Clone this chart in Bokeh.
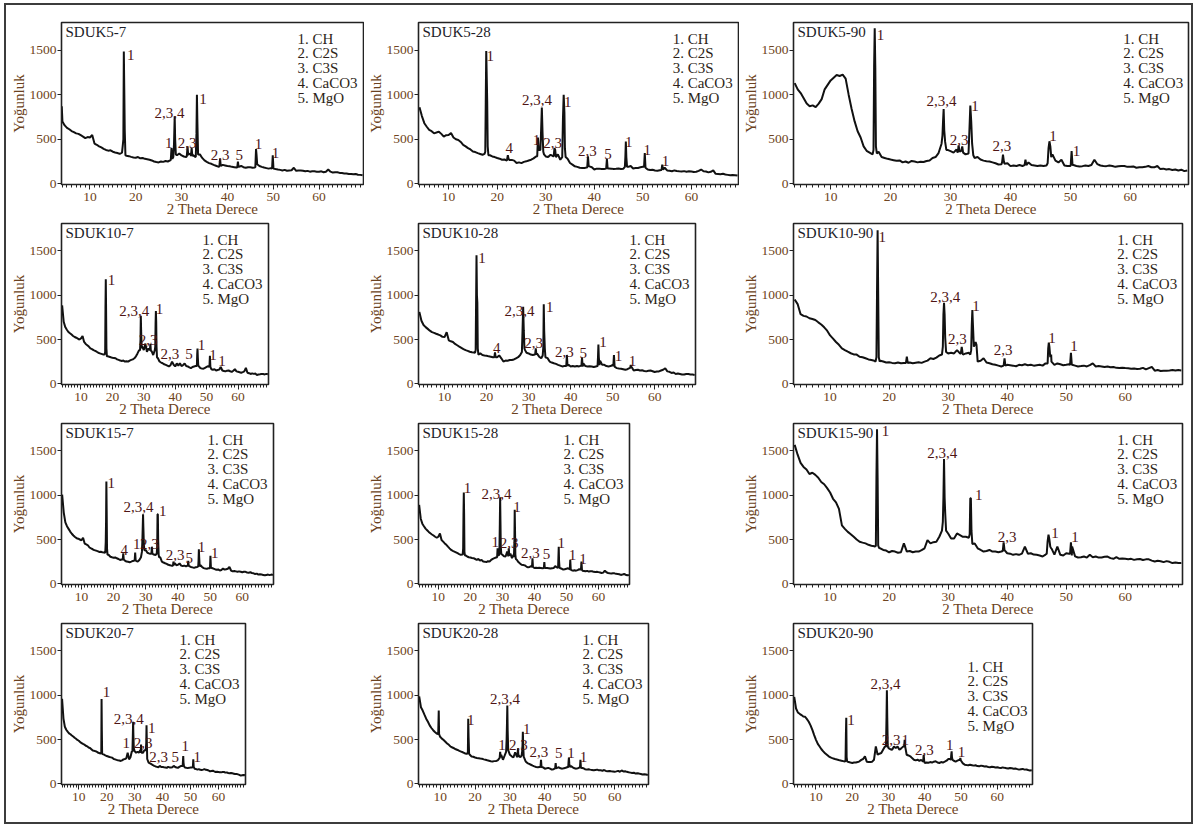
import numpy as np
from bokeh.plotting import figure
from bokeh.layouts import row, column
from bokeh.models import Range1d, FixedTicker
from bokeh.core.properties import value
from bokeh.embed import file_html
from bokeh.resources import INLINE

FONT = "Liberation Serif"
X_START, X_END = 3.8, 69.7
Y_START, Y_END = -8, 1810
BG_X = np.arange(4.0, 69.51, 0.5)          # 2-theta grid of the background readings
X_TICKS = [10, 20, 30, 40, 50, 60]
X_MINOR = list(range(4, 70))
Y_TICKS = [0, 500, 1000, 1500]
LEGEND = ["1. CH", "2. C2S", "3. C3S", "4. CaCO3", "5. MgO"]

# ---------------- SDUK5-7 ----------------
sduk5_7_bg = [700, 655, 628, 612, 592, 580, 566, 560, 545, 530,
              512, 524, 520, 548, 452, 438, 420, 408, 392, 380,
              372, 376, 360, 352, 346, 336, 342, 360, 315, 310,
              302, 296, 292, 300, 286, 290, 280, 276, 270, 262,
              250, 244, 240, 250, 246, 256, 250, 262, 282, 300,
              320, 340, 318, 306, 300, 330, 340, 322, 302, 340,
              330, 290, 262, 246, 232, 224, 212, 202, 192, 198,
              212, 206, 200, 196, 190, 186, 182, 190, 200, 186,
              180, 186, 186, 180, 182, 210, 200, 190, 182, 176,
              170, 176, 166, 165, 160, 156, 150, 156, 146, 150,
              152, 180, 146, 150, 150, 146, 140, 145, 136, 140,
              140, 136, 136, 140, 130, 136, 160, 136, 126, 130,
              130, 122, 120, 116, 116, 110, 110, 106, 110, 102,
              100, 96]
sduk5_7_peaks = [
    [(3.85, 870), (3.95, 760)],
    [(17.0, 350), (17.15, 420), (17.3, 500), (17.4, 1485), (17.5, 1050), (17.6, 600), (17.75, 320)],
    [(27.65, 270), (27.8, 400), (27.95, 290)],
    [(28.2, 300), (28.35, 450), (28.5, 757), (28.6, 500), (28.75, 330)],
    [(31.15, 310), (31.3, 420), (31.45, 320)],
    [(32.05, 310), (32.2, 400), (32.35, 310)],
    [(33.1, 300), (33.25, 560), (33.35, 1000), (33.45, 700), (33.6, 330)],
    [(38.25, 195), (38.4, 280), (38.55, 200)],
    [(42.15, 185), (42.3, 250), (42.45, 185)],
    [(46.1, 190), (46.25, 390), (46.35, 330), (46.5, 220)],
    [(49.75, 170), (49.9, 320), (50.05, 170)],
]
sduk5_7_labels = [("1", 18.9, 1447), ("2,3,4", 27.35, 795), ("1", 34.7, 951), ("1", 27.2, 459),
                  ("2,3", 31.2, 459), ("2,3", 38.4, 328), ("5", 42.6, 328), ("1", 46.8, 451), ("1", 50.5, 347)]

# ---------------- SDUK5-28 ----------------
sduk5_28_bg = [860, 760, 680, 640, 605, 590, 566, 575, 585, 560,
               530, 545, 548, 570, 520, 500, 492, 470, 437, 420,
               400, 385, 363, 356, 344, 335, 326, 340, 330, 320,
               307, 300, 289, 282, 270, 272, 262, 268, 268, 260,
               233, 240, 232, 246, 252, 262, 270, 285, 307, 330,
               380, 420, 307, 300, 326, 310, 380, 330, 270, 420,
               500, 280, 233, 215, 196, 190, 180, 178, 178, 184,
               195, 185, 160, 170, 170, 165, 165, 160, 172, 170,
               165, 168, 172, 166, 170, 200, 190, 200, 172, 176,
               178, 185, 190, 200, 160, 156, 158, 150, 146, 152,
               165, 180, 150, 146, 141, 150, 144, 140, 138, 142,
               136, 140, 138, 132, 135, 145, 160, 140, 138, 128,
               135, 150, 112, 110, 108, 112, 104, 100, 95, 98,
               96, 92]
sduk5_28_peaks = [
    [(17.4, 335), (17.55, 360), (17.65, 920), (17.75, 1491), (17.85, 1200), (17.95, 920), (18.05, 420), (18.2, 320)],
    [(22.05, 275), (22.2, 320), (22.35, 280)],
    [(28.25, 310), (28.4, 520), (28.55, 380)],
    [(28.9, 380), (29.05, 600), (29.2, 855), (29.35, 560), (29.5, 360), (29.65, 330)],
    [(31.65, 310), (31.8, 400), (31.95, 380), (32.1, 300)],
    [(33.4, 300), (33.55, 733), (33.7, 1000), (33.85, 800), (33.95, 400), (34.1, 300)],
    [(38.55, 184), (38.7, 307), (38.85, 200)],
    [(42.45, 170), (42.6, 278), (42.75, 172)],
    [(46.3, 190), (46.4, 300), (46.5, 474), (46.6, 300), (46.75, 190)],
    [(50.25, 190), (50.4, 344), (50.55, 180)],
    [(53.85, 155), (54.0, 215), (54.15, 160)],
]
sduk5_28_labels = [("1", 18.6, 1436), ("2,3,4", 28.2, 936), ("1", 34.55, 918), ("4", 22.5, 400),
                   ("1", 28.1, 492), ("2,3", 31.4, 463), ("2,3", 38.6, 363), ("5", 42.8, 337),
                   ("1", 47.1, 474), ("1", 50.9, 381), ("1", 54.65, 252)]

# ---------------- SDUK5-90 ----------------
sduk5_90_bg = [1130, 1060, 1018, 960, 900, 870, 880, 860, 900, 950,
               1060, 1110, 1160, 1190, 1220, 1210, 1225, 1180, 1000, 840,
               700, 590, 520, 420, 370, 350, 330, 345, 360, 300,
               290, 280, 272, 265, 258, 262, 240, 250, 236, 256,
               250, 240, 248, 244, 256, 262, 290, 300, 345, 420,
               460, 380, 366, 350, 384, 360, 350, 330, 330, 340,
               290, 300, 272, 260, 254, 250, 240, 230, 216, 220,
               225, 230, 198, 205, 200, 210, 200, 205, 240, 210,
               205, 200, 206, 200, 205, 210, 330, 260, 240, 270,
               205, 200, 200, 210, 200, 195, 198, 205, 200, 210,
               270, 220, 205, 200, 198, 205, 200, 190, 196, 200,
               200, 190, 190, 195, 180, 186, 185, 190, 200, 186,
               185, 200, 165, 170, 160, 165, 155, 160, 150, 158,
               142, 150]
sduk5_90_peaks = [
    [(17.0, 330), (17.15, 380), (17.25, 1317), (17.35, 1745), (17.45, 1300), (17.55, 420), (17.7, 340)],
    [(28.5, 450), (28.65, 540), (28.75, 700), (28.85, 839), (28.95, 600), (29.1, 470), (29.3, 380)],
    [(31.2, 350), (31.35, 430), (31.5, 360)],
    [(31.8, 370), (31.95, 420), (32.1, 350)],
    [(33.0, 340), (33.15, 600), (33.3, 877), (33.45, 700), (33.6, 450), (33.8, 320)],
    [(38.6, 240), (38.75, 328), (38.9, 250)],
    [(42.35, 210), (42.5, 270), (42.65, 210)],
    [(46.2, 230), (46.35, 400), (46.5, 477), (46.65, 420), (46.8, 300)],
    [(50.05, 210), (50.2, 366), (50.35, 210)],
]
sduk5_90_labels = [("1", 18.3, 1671), ("2,3,4", 28.5, 925), ("1", 34.1, 869), ("2,3", 31.45, 496),
                   ("2,3", 38.55, 421), ("1", 47.1, 533), ("1", 51.0, 373)]

# ---------------- SDUK10-7 ----------------
sduk10_7_bg = [886, 700, 640, 610, 585, 570, 556, 540, 528, 520,
               510, 500, 512, 540, 472, 450, 436, 420, 400, 392,
               380, 372, 362, 350, 344, 338, 332, 330, 320, 310,
               306, 300, 295, 292, 288, 276, 270, 262, 258, 262,
               251, 255, 250, 262, 270, 276, 288, 310, 343, 380,
               435, 420, 380, 454, 362, 400, 435, 370, 325, 400,
               350, 288, 252, 240, 232, 220, 214, 205, 196, 210,
               250, 215, 196, 230, 205, 232, 200, 210, 230, 200,
               196, 185, 177, 190, 196, 200, 210, 200, 177, 172,
               170, 180, 190, 200, 170, 165, 159, 165, 150, 156,
               160, 190, 150, 145, 140, 148, 150, 142, 135, 148,
               165, 140, 135, 130, 125, 132, 140, 180, 125, 120,
               111, 118, 112, 115, 100, 105, 108, 112, 110, 106,
               112, 108]
sduk10_7_peaks = [
    [(17.55, 335), (17.7, 360), (17.8, 849), (17.9, 1181), (18.0, 820), (18.1, 400), (18.25, 310)],
    [(28.8, 380), (28.95, 500), (29.05, 767), (29.15, 600), (29.3, 440), (29.45, 400)],
    [(31.95, 380), (32.1, 450), (32.25, 370)],
    [(33.5, 380), (33.65, 420), (33.75, 675), (33.85, 823), (33.95, 700), (34.05, 420), (34.2, 300)],
    [(46.9, 200), (47.0, 330), (47.1, 399), (47.2, 300), (47.35, 200)],
    [(50.9, 190), (51.05, 317), (51.2, 190)],
]
sduk10_7_labels = [("1", 19.7, 1173), ("2,3,4", 27.0, 823), ("1", 35.0, 841), ("2,3", 31.35, 491),
                   ("2,3", 38.3, 332), ("5", 44.4, 332), ("1", 48.4, 443), ("1", 52.0, 325), ("1", 54.9, 258)]

# ---------------- SDUK10-28 ----------------
sduk10_28_bg = [812, 712, 664, 640, 620, 600, 583, 575, 565, 556,
                546, 530, 528, 583, 491, 480, 472, 450, 435, 420,
                406, 392, 380, 372, 362, 356, 354, 350, 345, 343,
                325, 320, 317, 310, 306, 300, 295, 300, 320, 288,
                251, 262, 260, 268, 269, 275, 288, 300, 325, 350,
                380, 350, 343, 330, 325, 330, 340, 306, 288, 400,
                400, 290, 251, 240, 232, 225, 214, 205, 196, 200,
                230, 215, 196, 200, 196, 200, 196, 205, 230, 200,
                196, 198, 196, 190, 196, 210, 260, 214, 214, 200,
                196, 200, 214, 190, 177, 172, 170, 165, 159, 165,
                177, 190, 150, 155, 159, 150, 152, 145, 140, 148,
                150, 142, 133, 138, 140, 150, 159, 175, 140, 135,
                122, 128, 111, 115, 111, 106, 104, 110, 111, 106,
                104, 100]
sduk10_28_peaks = [
    [(17.25, 350), (17.4, 380), (17.5, 915), (17.6, 1450), (17.7, 1000), (17.8, 915), (17.9, 400), (18.05, 330)],
    [(21.85, 300), (22.0, 354), (22.15, 300)],
    [(28.4, 360), (28.55, 601), (28.7, 871), (28.85, 600), (29.0, 400), (29.15, 380)],
    [(31.55, 330), (31.7, 399), (31.85, 330)],
    [(33.35, 320), (33.5, 420), (33.6, 897), (33.7, 601), (33.85, 400), (34.0, 300)],
    [(38.95, 200), (39.1, 325), (39.25, 205)],
    [(42.55, 196), (42.7, 295), (42.85, 196)],
    [(46.4, 200), (46.5, 300), (46.6, 443), (46.7, 300), (46.85, 210)],
    [(50.15, 200), (50.3, 325), (50.45, 200)],
    [(54.15, 177), (54.3, 214), (54.45, 177)],
]
sduk10_28_labels = [("1", 18.9, 1424), ("2,3,4", 27.8, 823), ("1", 35.0, 871), ("4", 22.4, 406),
                    ("2,3", 31.2, 465), ("2,3", 38.5, 362), ("5", 43.0, 343), ("1", 47.7, 472),
                    ("1", 51.4, 317), ("1", 54.7, 258)]

# ---------------- SDUK10-90 ----------------
sduk10_90_bg = [952, 900, 786, 767, 760, 740, 731, 720, 694, 670,
                638, 600, 546, 510, 472, 440, 399, 380, 362, 345,
                332, 330, 306, 300, 288, 275, 269, 260, 251, 260,
                251, 240, 244, 236, 232, 240, 232, 236, 245, 240,
                232, 238, 244, 236, 250, 262, 288, 280, 295, 320,
                399, 500, 343, 350, 343, 380, 343, 330, 343, 350,
                500, 472, 251, 260, 288, 240, 232, 220, 214, 205,
                196, 205, 214, 210, 205, 198, 214, 210, 220, 210,
                214, 205, 210, 214, 205, 230, 230, 250, 214, 230,
                220, 210, 214, 220, 214, 205, 196, 200, 205, 196,
                210, 230, 196, 200, 196, 190, 196, 186, 190, 180,
                177, 180, 177, 175, 170, 172, 168, 170, 180, 162,
                177, 190, 148, 155, 145, 148, 148, 150, 155, 150,
                155, 150]
sduk10_90_peaks = [
    [(17.7, 250), (17.85, 300), (17.95, 1033), (18.05, 1734), (18.15, 1000), (18.25, 300), (18.4, 250)],
    [(22.85, 236), (23.0, 306), (23.15, 236)],
    [(28.95, 330), (29.1, 420), (29.2, 786), (29.3, 915), (29.4, 786), (29.5, 520), (29.65, 360)],
    [(32.15, 343), (32.3, 417), (32.45, 343)],
    [(33.75, 330), (33.9, 380), (34.0, 664), (34.1, 834), (34.2, 664), (34.35, 420), (34.5, 440), (34.65, 472), (34.8, 440)],
    [(39.4, 205), (39.55, 288), (39.7, 205)],
    [(46.85, 230), (46.95, 400), (47.05, 465), (47.15, 420), (47.3, 300), (47.45, 330)],
    [(50.65, 214), (50.8, 351), (50.95, 214)],
]
sduk10_90_labels = [("1", 18.85, 1660), ("2,3,4", 29.5, 981), ("1", 34.7, 878), ("2,3", 31.55, 502),
                    ("2,3", 39.3, 380), ("1", 47.6, 517), ("1", 51.3, 428)]

# ---------------- SDUK15-7 ----------------
sduk15_7_bg = [1007, 804, 694, 650, 620, 590, 565, 545, 528, 515,
               509, 500, 491, 520, 454, 445, 435, 410, 399, 390,
               380, 375, 369, 360, 362, 356, 354, 350, 340, 325,
               306, 300, 295, 298, 288, 280, 269, 275, 300, 262,
               251, 248, 244, 250, 258, 262, 260, 250, 269, 300,
               380, 380, 380, 350, 343, 340, 417, 330, 325, 380,
               350, 300, 251, 240, 232, 225, 214, 210, 205, 200,
               232, 210, 214, 230, 205, 200, 205, 196, 205, 200,
               190, 185, 180, 186, 190, 200, 210, 190, 177, 172,
               170, 175, 190, 178, 172, 165, 159, 162, 150, 156,
               172, 160, 165, 170, 190, 150, 140, 145, 140, 135,
               140, 136, 130, 135, 135, 128, 125, 130, 122, 118,
               111, 115, 104, 108, 104, 100, 96, 100, 104, 98,
               104, 100]
sduk15_7_peaks = [
    [(17.4, 350), (17.55, 472), (17.65, 700), (17.75, 1155), (17.85, 800), (17.95, 400), (18.1, 330)],
    [(22.85, 275), (23.0, 343), (23.15, 275)],
    [(26.55, 262), (26.7, 354), (26.85, 262)],
    [(28.8, 360), (28.95, 500), (29.05, 638), (29.15, 786), (29.25, 638), (29.4, 450), (29.55, 380)],
    [(31.75, 340), (31.9, 417), (32.05, 340)],
    [(33.4, 340), (33.55, 420), (33.65, 786), (33.75, 786), (33.85, 500), (34.0, 330), (34.15, 300)],
    [(38.45, 205), (38.6, 250), (38.75, 210)],
    [(43.05, 200), (43.2, 260), (43.35, 200)],
    [(46.3, 196), (46.4, 260), (46.5, 391), (46.6, 300), (46.75, 196)],
    [(49.95, 175), (50.1, 317), (50.25, 180)],
]
sduk15_7_labels = [("1", 19.3, 1137), ("2,3,4", 27.7, 871), ("1", 35.3, 823), ("4", 23.3, 380),
                   ("1", 27.2, 454), ("2,3", 31.1, 454), ("2,3", 39.1, 325), ("5", 43.5, 295),
                   ("1", 47.3, 417), ("1", 51.4, 343)]

# ---------------- SDUK15-28 ----------------
sduk15_28_bg = [890, 735, 679, 650, 623, 605, 586, 570, 557, 545,
                531, 520, 531, 568, 494, 476, 456, 440, 419, 400,
                382, 372, 364, 355, 345, 335, 327, 330, 330, 320,
                308, 300, 297, 292, 289, 280, 271, 280, 262, 270,
                252, 250, 245, 255, 250, 270, 282, 290, 297, 340,
                327, 340, 327, 310, 308, 364, 330, 340, 289, 330,
                330, 271, 245, 230, 215, 212, 208, 195, 186, 190,
                200, 190, 178, 182, 178, 180, 178, 175, 190, 178,
                178, 176, 172, 176, 178, 200, 185, 180, 178, 170,
                160, 165, 170, 175, 165, 155, 148, 152, 148, 155,
                165, 160, 148, 145, 141, 146, 138, 142, 141, 135,
                132, 136, 132, 128, 122, 126, 148, 130, 122, 118,
                115, 120, 118, 112, 111, 108, 100, 104, 111, 102,
                96, 100]
sduk15_28_peaks = [
    [(17.6, 330), (17.75, 400), (17.85, 779), (17.95, 1031), (18.05, 779), (18.15, 360), (18.3, 320)],
    [(28.35, 300), (28.5, 401), (28.65, 320)],
    [(29.05, 330), (29.2, 679), (29.3, 976), (29.4, 700), (29.5, 420), (29.65, 340)],
    [(31.85, 310), (32.0, 400), (32.15, 320)],
    [(33.6, 300), (33.75, 475), (33.85, 835), (33.95, 600), (34.05, 330), (34.2, 280)],
    [(39.25, 190), (39.4, 289), (39.55, 190)],
    [(42.95, 178), (43.1, 245), (43.25, 178)],
    [(47.4, 180), (47.5, 300), (47.6, 419), (47.7, 260), (47.85, 180)],
    [(51.05, 165), (51.2, 271), (51.35, 165)],
    [(54.55, 165), (54.7, 252), (54.85, 160)],
]
sduk15_28_labels = [("1", 19.1, 1087), ("2,3,4", 28.2, 1013), ("1", 34.6, 864), ("1", 27.8, 475),
                    ("2,3", 32.1, 456), ("2,3", 38.75, 345), ("5", 43.8, 334), ("1", 48.4, 456),
                    ("1", 51.9, 326), ("1", 55.2, 282)]

# ---------------- SDUK15-90 ----------------
sduk15_90_bg = [1569, 1458, 1365, 1320, 1291, 1240, 1254, 1230, 1198, 1150,
                1124, 1080, 1031, 960, 920, 846, 660, 620, 586, 560,
                531, 500, 475, 465, 456, 440, 430, 425, 419, 401,
                382, 375, 356, 370, 364, 350, 356, 456, 364, 370,
                356, 364, 364, 380, 401, 493, 456, 470, 475, 531,
                623, 568, 568, 512, 512, 568, 550, 531, 531, 512,
                520, 456, 401, 382, 364, 370, 382, 364, 364, 356,
                364, 400, 345, 340, 327, 335, 327, 340, 419, 340,
                345, 330, 327, 320, 308, 330, 500, 400, 330, 420,
                327, 320, 345, 340, 420, 310, 297, 300, 308, 296,
                327, 300, 308, 296, 297, 305, 308, 290, 282, 300,
                282, 286, 282, 276, 282, 270, 276, 280, 268, 276,
                276, 262, 252, 260, 255, 245, 256, 248, 234, 240,
                234, 236]
sduk15_90_peaks = [
    [(17.6, 419), (17.75, 430), (17.85, 1198), (17.95, 1744), (18.05, 1198), (18.15, 430), (18.3, 405)],
    [(28.95, 600), (29.1, 700), (29.2, 976), (29.3, 1410), (29.4, 976), (29.5, 800), (29.65, 600)],
    [(33.5, 520), (33.65, 560), (33.75, 965), (33.85, 965), (33.95, 600), (34.1, 450)],
    [(39.25, 370), (39.4, 467), (39.55, 380)],
    [(46.7, 340), (46.85, 480), (47.0, 556), (47.15, 500), (47.3, 420), (47.45, 400)],
    [(50.65, 340), (50.8, 467), (50.95, 320)],
]
sduk15_90_labels = [("1", 19.4, 1729), ("2,3,4", 29.0, 1477), ("1", 35.2, 1002), ("2,3", 40.0, 531),
                    ("1", 48.1, 579), ("1", 51.5, 531)]

# ---------------- SDUK20-7 ----------------
sduk20_7_bg = [960, 736, 644, 610, 589, 570, 559, 545, 534, 520,
               508, 495, 486, 470, 460, 450, 442, 430, 423, 410,
               405, 390, 375, 372, 368, 360, 350, 345, 340, 335,
               331, 320, 313, 308, 302, 298, 294, 280, 276, 270,
               265, 262, 258, 265, 276, 280, 287, 350, 276, 300,
               368, 420, 368, 350, 362, 350, 380, 350, 350, 380,
               420, 276, 239, 230, 221, 212, 202, 196, 191, 186,
               202, 190, 191, 186, 184, 180, 191, 185, 184, 186,
               202, 190, 184, 180, 191, 200, 200, 221, 184, 180,
               177, 180, 184, 184, 191, 170, 166, 160, 166, 158,
               155, 160, 166, 158, 155, 150, 140, 145, 148, 140,
               133, 136, 133, 130, 129, 132, 133, 126, 129, 122,
               118, 122, 118, 114, 110, 112, 106, 100, 92, 96,
               100, 96]
sduk20_7_peaks = [
    [(17.9, 340), (18.05, 350), (18.15, 957), (18.25, 600), (18.35, 340)],
    [(29.2, 360), (29.35, 552), (29.45, 699), (29.55, 552), (29.7, 400)],
    [(32.15, 350), (32.3, 442), (32.45, 350)],
    [(34.0, 380), (34.15, 460), (34.25, 662), (34.35, 500), (34.5, 280)],
    [(47.2, 200), (47.3, 260), (47.4, 313), (47.5, 240), (47.65, 200)],
    [(50.85, 190), (51.0, 276), (51.15, 190)],
]
sduk20_7_labels = [("1", 19.9, 1038), ("2,3,4", 27.9, 736), ("1", 36.1, 633), ("1", 27.0, 460),
                   ("2,3", 33.0, 460), ("2,3", 38.6, 302), ("5", 44.5, 302), ("1", 48.1, 423), ("1", 52.4, 302)]

# ---------------- SDUK20-28 ----------------
sduk20_28_bg = [987, 864, 827, 780, 735, 700, 660, 630, 605, 585,
                568, 550, 531, 510, 494, 475, 456, 440, 419, 410,
                401, 390, 382, 372, 364, 356, 345, 340, 335, 327,
                308, 305, 297, 292, 289, 285, 282, 276, 271, 265,
                260, 255, 252, 256, 258, 265, 289, 327, 271, 320,
                364, 380, 327, 310, 297, 356, 308, 320, 300, 364,
                300, 252, 234, 225, 215, 205, 197, 190, 186, 190,
                190, 185, 171, 175, 180, 172, 160, 165, 175, 180,
                186, 175, 171, 176, 180, 190, 210, 200, 186, 175,
                171, 176, 186, 180, 176, 165, 160, 165, 160, 156,
                152, 156, 160, 152, 152, 148, 155, 145, 141, 145,
                141, 138, 135, 140, 146, 136, 150, 140, 141, 135,
                130, 126, 122, 125, 115, 118, 115, 110, 104, 108,
                104, 100]
sduk20_28_peaks = [
    [(9.45, 560), (9.6, 827), (9.7, 560)],
    [(17.8, 340), (17.95, 360), (18.05, 735), (18.15, 531), (18.3, 340)],
    [(27.05, 289), (27.2, 360), (27.35, 300)],
    [(28.9, 360), (29.05, 500), (29.15, 679), (29.25, 883), (29.35, 600), (29.5, 380)],
    [(32.15, 300), (32.3, 400), (32.45, 300)],
    [(33.35, 320), (33.5, 364), (33.6, 438), (33.7, 586), (33.8, 438), (33.95, 300)],
    [(38.75, 190), (38.9, 271), (39.05, 190)],
    [(42.95, 175), (43.1, 234), (43.25, 175)],
    [(46.7, 186), (46.8, 250), (46.9, 297), (47.0, 230), (47.15, 190)],
    [(50.05, 176), (50.2, 271), (50.35, 176)],
]
sduk20_28_labels = [("1", 18.8, 716), ("2,3,4", 28.6, 957), ("1", 34.8, 623), ("1", 27.7, 438),
                    ("2,3", 32.4, 438), ("2,3", 38.3, 364), ("5", 44.0, 345), ("1", 47.5, 345), ("1", 51.1, 308)]

# ---------------- SDUK20-90 ----------------
sduk20_90_bg = [981, 850, 806, 790, 776, 760, 757, 730, 701, 660,
                608, 550, 496, 450, 421, 390, 366, 345, 328, 310,
                298, 290, 283, 276, 272, 265, 261, 256, 255, 250,
                246, 240, 235, 240, 240, 245, 254, 270, 280, 310,
                250, 246, 246, 250, 272, 421, 328, 340, 347, 384,
                420, 420, 403, 390, 384, 420, 403, 420, 384, 400,
                420, 430, 328, 320, 310, 290, 272, 265, 272, 260,
                270, 250, 235, 240, 238, 245, 240, 250, 254, 240,
                235, 245, 240, 250, 261, 280, 280, 290, 260, 250,
                261, 270, 260, 230, 216, 212, 209, 215, 210, 205,
                209, 200, 197, 205, 200, 195, 197, 190, 186, 192,
                190, 185, 186, 182, 179, 185, 180, 176, 172, 178,
                175, 170, 172, 166, 160, 165, 168, 160, 162, 155,
                149, 152]
sduk20_90_peaks = [
    [(18.0, 250), (18.15, 270), (18.25, 552), (18.35, 746), (18.45, 300), (18.6, 250)],
    [(29.3, 420), (29.45, 757), (29.55, 1056), (29.65, 757), (29.8, 410), (29.95, 420)],
    [(34.3, 420), (34.45, 496), (34.6, 420)],
    [(39.55, 255), (39.7, 328), (39.85, 250)],
    [(47.2, 270), (47.3, 330), (47.4, 366), (47.5, 300), (47.65, 270)],
    [(49.65, 265), (49.8, 291), (49.95, 260)],
]
sduk20_90_labels = [("1", 19.65, 720), ("2,3,4", 29.2, 1130), ("2,3", 30.7, 496), ("1", 34.6, 496),
                    ("2,3", 39.9, 384), ("1", 46.9, 440), ("1", 50.1, 358)]

# colours
LINE_C = "#111111"
TICK_C = "#6e4420"
AXLAB_C = "#6b4220"
LEG_C = "#2e1f18"
PEAK_C = "#4e1414"
TITLE_C = "#1c1c28"


def merge(bg, peaks):
    assert len(bg) == len(BG_X)
    keep = np.ones(len(BG_X), dtype=bool)
    pts = []
    for g in peaks:
        lo, hi = g[0][0], g[-1][0]
        keep &= ~((BG_X >= lo - 1e-9) & (BG_X <= hi + 1e-9))
        pts += g
    allp = [(float(x), float(y)) for x, y, k in zip(BG_X, bg, keep) if k] + pts
    allp.sort()
    return [p[0] for p in allp], [p[1] for p in allp]


def panel(name, bg, peaks, labels, fw, L, R, T, B, fh=161, leg_top=16):
    W = L + fw + R
    H = T + fh + B
    p = figure(width=W, height=H, output_backend="svg", toolbar_location=None,
               x_range=Range1d(X_START, X_END), y_range=Range1d(Y_START, Y_END),
               min_border_left=L, min_border_right=R, min_border_top=T, min_border_bottom=B,
               x_axis_label="2 Theta Derece", y_axis_label="Yoğunluk")
    p.xgrid.visible = False
    p.ygrid.visible = False
    p.outline_line_color = "#222222"
    p.outline_line_width = 1.6
    p.background_fill_color = "white"
    p.border_fill_color = "white"

    xa = p.xaxis[0]
    xa.ticker = FixedTicker(ticks=X_TICKS, minor_ticks=X_MINOR)
    xa.major_tick_out = 5
    xa.major_tick_in = 0
    xa.minor_tick_out = 3
    xa.minor_tick_in = 0
    xa.major_label_standoff = 3
    xa.axis_label_standoff = -3
    ya = p.yaxis[0]
    ya.ticker = FixedTicker(ticks=Y_TICKS)
    ya.major_tick_out = 4
    ya.major_tick_in = 0
    ya.major_label_standoff = 1
    ya.axis_label_standoff = 0
    for ax in (xa, ya):
        ax.axis_line_color = "#222222"
        ax.major_tick_line_color = "#222222"
        ax.major_label_text_font = FONT
        ax.major_label_text_font_size = "13.5px"
        ax.major_label_text_color = TICK_C
        ax.axis_label_text_font = FONT
        ax.axis_label_text_font_size = "15px"
        ax.axis_label_text_font_style = "normal"
        ax.axis_label_text_color = AXLAB_C
    xa.minor_tick_line_color = "#222222"
    ya.minor_tick_line_color = None

    xs, ys = merge(bg, peaks)
    p.line(xs, ys, line_color=LINE_C, line_width=2.0)

    ux = (X_END - X_START) / fw
    uy = (Y_END - Y_START) / fh
    # sample name
    p.text(x=[X_START + 4 * ux], y=[Y_END - 9 * uy], text=[name], text_font=value(FONT),
           text_font_size="15px", text_color=TITLE_C, text_align="left", text_baseline="middle")
    # phase legend
    p.text(x=[X_END - 66 * ux] * len(LEGEND),
           y=[Y_END - (leg_top + 14.8 * i) * uy for i in range(len(LEGEND))],
           text=LEGEND, text_font=value(FONT), text_font_size="15px", text_color=LEG_C,
           text_align="left", text_baseline="middle")
    # peak labels
    p.text(x=[l[1] for l in labels], y=[l[2] for l in labels], text=[l[0] for l in labels],
           text_font=value(FONT), text_font_size="15px", text_color=PEAK_C,
           text_align="center", text_baseline="middle")
    return p


B = 38
p1 = panel("SDUK5-7", sduk5_7_bg, sduk5_7_peaks, sduk5_7_labels, 302, 55, 1, 17, B, fh=162)
p2 = panel("SDUK5-28", sduk5_28_bg, sduk5_28_peaks, sduk5_28_labels, 321, 53, 1, 17, B, fh=162)
p3 = panel("SDUK5-90", sduk5_90_bg, sduk5_90_peaks, sduk5_90_labels, 399, 50, 3, 17, B, fh=162)

p4 = panel("SDUK10-7", sduk10_7_bg, sduk10_7_peaks, sduk10_7_labels, 207, 55, 2, 1, B)
p5 = panel("SDUK10-28", sduk10_28_bg, sduk10_28_peaks, sduk10_28_labels, 277, 148, 44, 1, B)
p6 = panel("SDUK10-90", sduk10_90_bg, sduk10_90_peaks, sduk10_90_labels, 393, 50, 3, 1, B)

p7 = panel("SDUK15-7", sduk15_7_bg, sduk15_7_peaks, sduk15_7_labels, 212, 55, 2, 1, B)
p8 = panel("SDUK15-28", sduk15_28_bg, sduk15_28_peaks, sduk15_28_labels, 211, 143, 110, 1, B)
p9 = panel("SDUK15-90", sduk15_90_bg, sduk15_90_peaks, sduk15_90_labels, 393, 50, 3, 1, B)

p10 = panel("SDUK20-7", sduk20_7_bg, sduk20_7_peaks, sduk20_7_labels, 184, 55, 2, 1, B)
p11 = panel("SDUK20-28", sduk20_28_bg, sduk20_28_peaks, sduk20_28_labels, 230, 171, 91, 1, B)
p12 = panel("SDUK20-90", sduk20_90_bg, sduk20_90_peaks, sduk20_90_labels, 243, 50, 3, 1, B, leg_top=43)

layout = column(row(p1, p2, p3), row(p4, p5, p6), row(p7, p8, p9), row(p10, p11, p12),
                styles={"border": "2px solid #3c3c3c", "margin-left": "4px", "margin-top": "3px",
                        "background-color": "white"})

open("out.html", "w").write(file_html(layout, INLINE))
